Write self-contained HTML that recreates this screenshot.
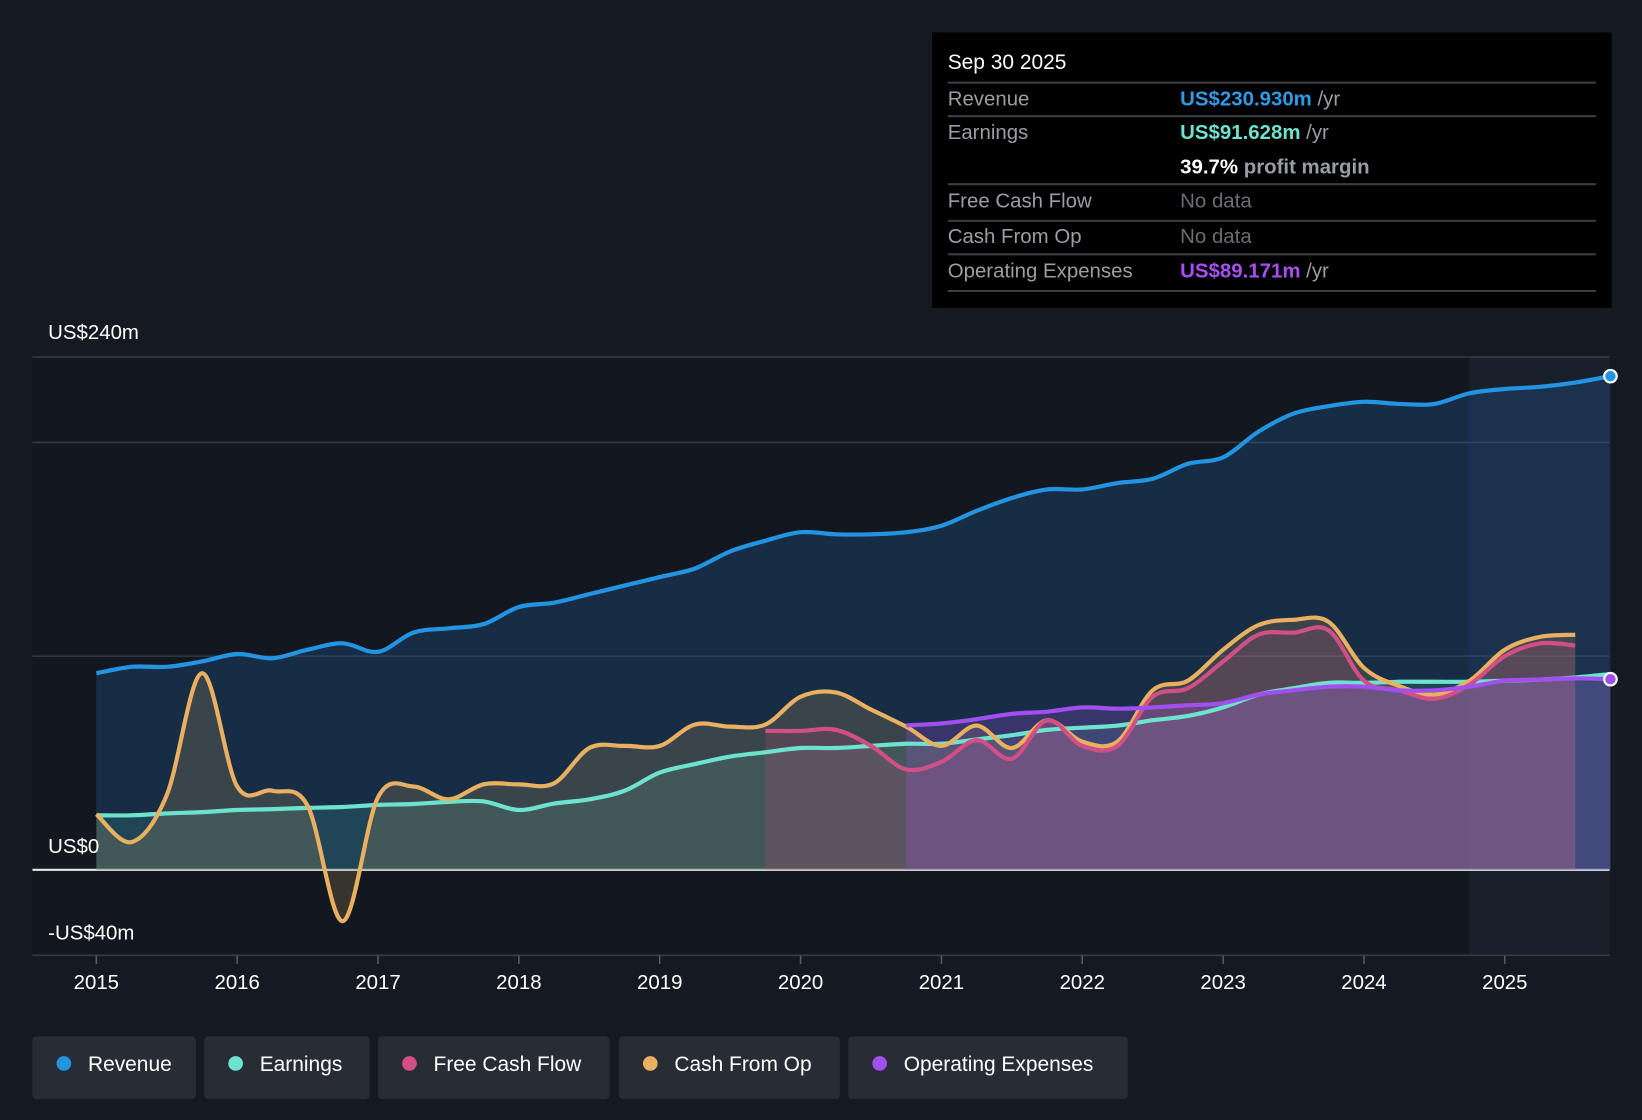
<!DOCTYPE html>
<html><head><meta charset="utf-8"><style>
html,body{margin:0;padding:0;background:#151a22;}
svg{display:block;font-family:"Liberation Sans",Arial,sans-serif;}
</style></head><body>
<svg id="chart" width="1642" height="1120" viewBox="0 0 1568 1070" preserveAspectRatio="none" xmlns="http://www.w3.org/2000/svg">
<rect x="0" y="0" width="1568" height="1070" fill="#151a22"/>
<rect x="31" y="341" width="1372" height="572" fill="#131820"/>
<rect x="1403" y="341" width="134" height="572" fill="#18202c"/>
<g id="grid"></g>
<g id="fills"></g>
<g id="lines"></g>
<g id="axes"></g>
<g>
<rect x="890" y="31" width="649" height="263" fill="#000"/>
<text x="905" y="66" fill="#fff" font-size="20">Sep 30 2025</text>
<g stroke="#3a3d42" stroke-width="2">
<line x1="905" y1="79" x2="1524" y2="79"/><line x1="905" y1="111" x2="1524" y2="111"/><line x1="905" y1="176" x2="1524" y2="176"/><line x1="905" y1="211" x2="1524" y2="211"/><line x1="905" y1="243" x2="1524" y2="243"/><line x1="905" y1="278" x2="1524" y2="278"/></g>
<g font-size="19.5" fill="#9a9ea4">
<text x="905" y="101">Revenue</text>
<text x="905" y="133">Earnings</text>
<text x="905" y="198">Free Cash Flow</text>
<text x="905" y="232">Cash From Op</text>
<text x="905" y="265">Operating Expenses</text>
</g>
<g font-size="19.5">
<text x="1127" y="101"><tspan fill="#2f9be6" font-weight="bold">US$230.930m</tspan><tspan fill="#9a9ea4"> /yr</tspan></text>
<text x="1127" y="133"><tspan fill="#6de3cf" font-weight="bold">US$91.628m</tspan><tspan fill="#9a9ea4"> /yr</tspan></text>
<text x="1127" y="166"><tspan fill="#fff" font-weight="bold">39.7%</tspan><tspan fill="#9a9ea4" font-weight="bold"> profit margin</tspan></text>
<text x="1127" y="198" fill="#6a6d72">No data</text>
<text x="1127" y="232" fill="#6a6d72">No data</text>
<text x="1127" y="265"><tspan fill="#a64ff0" font-weight="bold">US$89.171m</tspan><tspan fill="#9a9ea4"> /yr</tspan></text>
</g></g>
<g id="legend"></g>
</svg>
<script>
const revenueStart=2015.0;
const revenue=[92,95,95,97.5,101,99,103,106,102,111,113,115,123,125,129,133,137,141,149,154,158,157,157,158,161,168,174,178,178,181,183,190,193,205,213.5,217,219,218,218,223,225,226,228,231];
const earningsStart=2015.0;
const earnings=[25.5,25.5,26.4,27,28,28.4,29,29.4,30.4,30.8,31.8,32,28,31,33,37,45.5,49.5,53,55,57,57,58,59,59,61,63,65.5,66.5,67.5,70,72,76,82,85,87.5,87.5,88,88,88,88.5,89,90,91.6];
const cfoStart=2015.0;
const cashFromOp=[26,13,35,92,39,37,30,-24,34,39,33,40,40,40.5,57,58,58,68,67,68,81,83,75,67,58,67.5,57,70,60,60,84,88.5,103,114.5,117,116,94.5,86,82,88.5,103,109,110];
const fcfStart=2019.75;
const freeCashFlow=[65,65,65.5,58,47,50.5,60.7,52,70,58,58,81,85,97.5,110,111,112,88.5,84,80,86.7,100,106,105];
const opexStart=2020.75;
const opex=[67.6,68.5,70.5,73,74,76,75.4,76,77,78,82,84,85.7,85.7,84,84,85.7,88.5,89,89.6,89.2];
const yTicks=[240,200,100,0,-40];
const yLabels=["US$240m","","","US$0","-US$40m"];
const xTicks=[2015,2016,2017,2018,2019,2020,2021,2022,2023,2024,2025];

const NS="http://www.w3.org/2000/svg";
const X=t=>92+(t-2015)*134.5;
const Y=v=>831-v*2.0417;
function mk(tag,attrs,parent){const e=document.createElementNS(NS,tag);for(const k in attrs)e.setAttribute(k,attrs[k]);parent.appendChild(e);return e;}
function pts(start,arr){return arr.map((v,i)=>[X(start+i*0.25),Y(v)]);}
function smooth(p){let d=`M${p[0][0]},${p[0][1]}`;for(let i=0;i<p.length-1;i++){const p0=p[i-1]||p[i],p1=p[i],p2=p[i+1],p3=p[i+2]||p2;const c1=[p1[0]+(p2[0]-p0[0])/6,p1[1]+(p2[1]-p0[1])/6],c2=[p2[0]-(p3[0]-p1[0])/6,p2[1]-(p3[1]-p1[1])/6];d+=` C${c1[0]},${c1[1]} ${c2[0]},${c2[1]} ${p2[0]},${p2[1]}`;}return d;}
const grid=document.getElementById('grid'),fills=document.getElementById('fills'),lines=document.getElementById('lines'),axes=document.getElementById('axes');
yTicks.forEach((v,i)=>{const l=mk('line',{x1:31,x2:1537,y1:Y(v),y2:Y(v),stroke:v===0?'#e6e6e6':'#353a44','stroke-width':v===0?2:1.5},grid);


if(yLabels[i]){const t=mk('text',{x:46,y:Y(v)-(v===240?17:v===0?16:15),fill:'#fff','font-size':19.5},axes);t.textContent=yLabels[i];

}});
xTicks.forEach(yr=>{const tk=mk('line',{x1:X(yr),x2:X(yr),y1:913,y2:921,stroke:'#555a63','stroke-width':1.5},axes);


const t=mk('text',{x:X(yr),y:945,fill:'#fff','font-size':19.5,'text-anchor':'middle'},axes);t.textContent=yr;

});
const series=[
 {n:'revenue',s:revenueStart,d:revenue,c:'#2394e2',f:'rgba(30,90,150,0.32)'},
 {n:'earnings',s:earningsStart,d:earnings,c:'#6de3cf',f:'rgba(90,200,180,0.16)'},
 {n:'cash-from-op',s:cfoStart,d:cashFromOp,c:'#e8b060',f:'rgba(200,160,100,0.2)'},
 {n:'free-cash-flow',s:fcfStart,d:freeCashFlow,c:'#d24f86',f:'rgba(200,80,130,0.2)'},
 {n:'operating-expenses',s:opexStart,d:opex,c:'#a24ff0',f:'rgba(160,80,220,0.25)'}];
series.forEach(se=>{const p=pts(se.s,se.d);const path=smooth(p);
const a=mk('path',{d:path+` L${p[p.length-1][0]},${Y(0)} L${p[0][0]},${Y(0)} Z`,fill:se.f},fills);


const l=mk('path',{d:path,fill:'none',stroke:se.c,'stroke-width':4,'stroke-linejoin':'round'},lines);

});
[[revenue,'#2394e2'],[opex,'#a24ff0']].forEach(([arr,c],i)=>{const st=i===0?revenueStart:opexStart;const d=mk('circle',{cx:X(st+(arr.length-1)*0.25),cy:Y(arr[arr.length-1]),r:6,fill:c,stroke:'#fff','stroke-width':2},lines);

});
const legendItems=[['Revenue','#2394e2',31,156],['Earnings','#6de3cf',195,158],['Free Cash Flow','#d24f86',361,221],['Cash From Op','#e8b060',591,211],['Operating Expenses','#a24ff0',810,267]];
const lg=document.getElementById('legend');
legendItems.forEach(([name,c,x,w])=>{const g=mk('g',{},lg);


mk('rect',{x:x,y:990,width:w,height:60,rx:4,fill:'#272c35'},g);
mk('circle',{cx:x+30,cy:1016,r:7,fill:c},g);
const t=mk('text',{x:x+53,y:1023,fill:'#fff','font-size':20},g);t.textContent=name;});
</script>
</body></html>
